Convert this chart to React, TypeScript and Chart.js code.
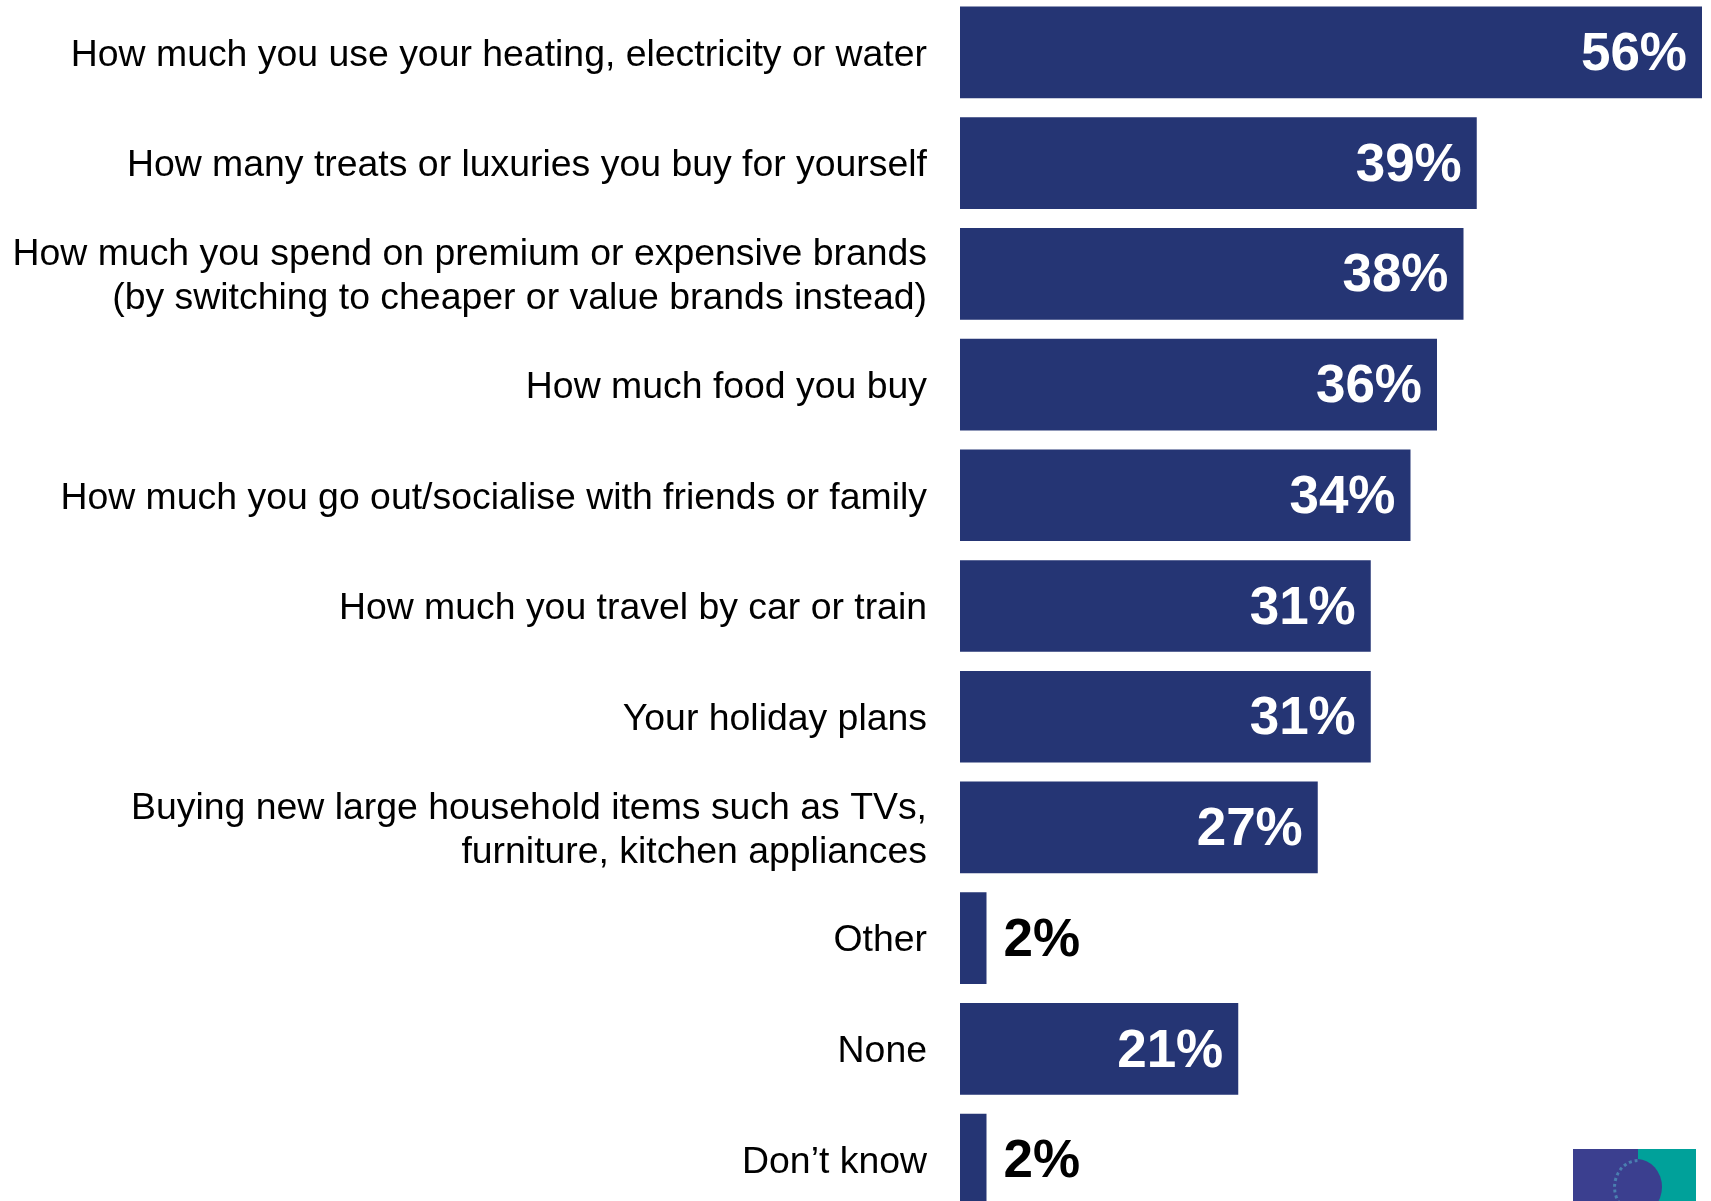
import React, { useEffect, useRef } from "react";
import { Chart, registerables } from "chart.js";

Chart.register(...registerables);

const categories: (string | string[])[] = [
  "How much you use your heating, electricity or water",
  "How many treats or luxuries you buy for yourself",
  [
    "How much you spend on premium or expensive brands",
    "(by switching to cheaper or value brands instead)",
  ],
  "How much food you buy",
  "How much you go out/socialise with friends or family",
  "How much you travel by car or train",
  "Your holiday plans",
  ["Buying new large household items such as TVs,", "furniture, kitchen appliances"],
  "Other",
  "None",
  "Don\u2019t know",
];

const values: number[] = [56, 39, 38, 36, 34, 31, 31, 27, 2, 21, 2];

const BAR_COLOR = "#253574";
const FONT = "'Liberation Sans', Arial, Helvetica, sans-serif";

const valueLabels = {
  id: "valueLabels",
  afterDatasetsDraw(chart: any) {
    const ctx = chart.ctx as CanvasRenderingContext2D;
    const meta = chart.getDatasetMeta(0);
    ctx.save();
    ctx.font = `bold 53px ${FONT}`;
    ctx.textBaseline = "middle";
    meta.data.forEach((bar: any, i: number) => {
      const v = values[i];
      const text = `${v}%`;
      if (v >= 10) {
        ctx.fillStyle = "#ffffff";
        ctx.textAlign = "right";
        ctx.fillText(text, bar.x - 15, bar.y + 3);
      } else {
        ctx.fillStyle = "#000000";
        ctx.textAlign = "left";
        ctx.fillText(text, bar.x + 17, bar.y + 3);
      }
    });
    ctx.restore();
  },
};

export default function App() {
  const canvasRef = useRef<HTMLCanvasElement | null>(null);

  useEffect(() => {
    if (!canvasRef.current) return;
    const chart = new Chart(canvasRef.current, {
      type: "bar",
      data: {
        labels: categories,
        datasets: [
          {
            data: values,
            backgroundColor: BAR_COLOR,
            borderWidth: 0,
            categoryPercentage: 1,
            barPercentage: 0.828,
          },
        ],
      },
      options: {
        indexAxis: "y",
        animation: false,
        responsive: false,
        maintainAspectRatio: false,
        layout: { padding: { left: 0, right: 9, top: 0, bottom: 0 } },
        plugins: {
          legend: { display: false },
          tooltip: { enabled: false },
        },
        scales: {
          x: {
            type: "linear",
            min: 0,
            max: 56,
            display: false,
          },
          y: {
            type: "category",
            offset: true,
            grid: { display: false, drawTicks: false },
            border: { display: false },
            ticks: {
              autoSkip: false,
              padding: 33,
              labelOffset: 3,
              color: "#000000",
              font: { family: FONT, size: 37.4, lineHeight: 1.17 },
            },
            afterFit: (scale: any) => {
              scale.width = 960;
              scale.paddingTop = 0;
              scale.paddingBottom = 0;
            },
          },
        },
      },
      plugins: [valueLabels],
    });
    return () => chart.destroy();
  }, []);

  return (
    <div
      style={{
        position: "absolute",
        left: 0,
        top: 0,
        width: 1711,
        height: 1201,
        overflow: "hidden",
        background: "#ffffff",
      }}
    >
      <canvas
        ref={canvasRef}
        width={1711}
        height={1218}
        style={{ position: "absolute", left: 0, top: -3, width: 1711, height: 1218 }}
      />
      {/* logo */}
      <div
        style={{
          position: "absolute",
          left: 1573,
          top: 1149,
          width: 65,
          height: 60,
          background: "#3b3f8f",
          overflow: "hidden",
        }}
      >
        <div
          style={{
            position: "absolute",
            left: 40,
            top: 10,
            width: 50,
            height: 56,
            borderRadius: "50%",
            border: "3px dotted #4a7fb0",
            boxSizing: "border-box",
          }}
        />
      </div>
      <div
        style={{
          position: "absolute",
          left: 1638,
          top: 1149,
          width: 58,
          height: 60,
          background: "#00a19a",
          overflow: "hidden",
        }}
      >
        <div
          style={{
            position: "absolute",
            left: -26,
            top: 10,
            width: 50,
            height: 56,
            borderRadius: "50%",
            background: "#3b3f8f",
          }}
        />
      </div>
    </div>
  );
}
